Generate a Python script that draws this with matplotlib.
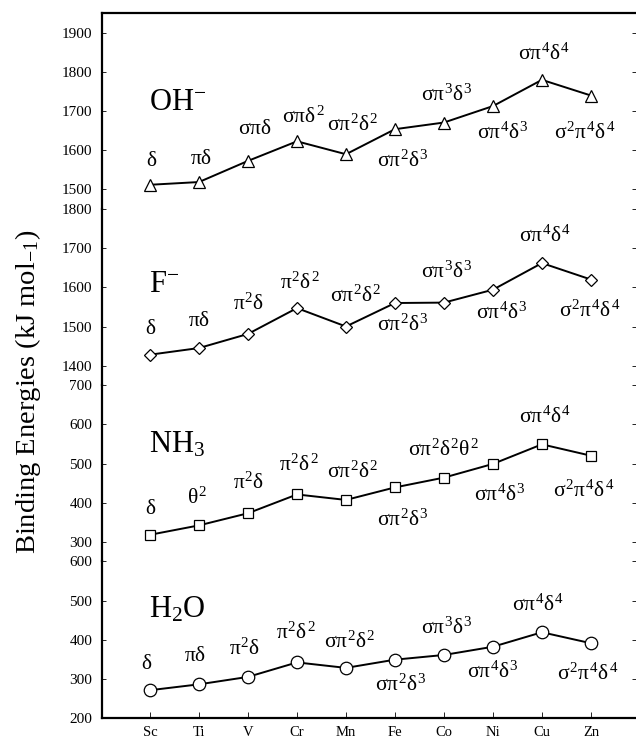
import matplotlib
matplotlib.use("Agg")
import matplotlib.pyplot as plt

plt.rcParams['font.family'] = ['Liberation Serif', 'DejaVu Serif']
plt.rcParams['mathtext.fontset'] = 'custom'
plt.rcParams['mathtext.rm'] = 'Liberation Serif'
plt.rcParams['mathtext.it'] = 'Liberation Serif'
plt.rcParams['mathtext.bf'] = 'Liberation Serif:bold'

# ---------------- data ----------------
metals = ['Sc', 'Ti', 'V', 'Cr', 'Mn', 'Fe', 'Co', 'Ni', 'Cu', 'Zn']

oh_values = [1512, 1519, 1573, 1623, 1590, 1654, 1671, 1713, 1780, 1740]
f_values = [1428, 1445, 1481, 1547, 1500, 1560, 1561, 1594, 1662, 1620]
nh3_values = [318, 342, 373, 421, 407, 439, 464, 499, 549, 520]
h2o_values = [271, 286, 305, 342, 328, 349, 361, 382, 419, 391]

oh_configs = ['δ', 'πδ', 'σπδ', 'σπδ^2', 'σπ^2δ^2', 'σπ^2δ^3', 'σπ^3δ^3',
              'σπ^4δ^3', 'σπ^4δ^4', 'σ^2π^4δ^4']
f_configs = ['δ', 'πδ', 'π^2δ', 'π^2δ^2', 'σπ^2δ^2', 'σπ^2δ^3', 'σπ^3δ^3',
             'σπ^4δ^3', 'σπ^4δ^4', 'σ^2π^4δ^4']
nh3_configs = ['δ', 'θ^2', 'π^2δ', 'π^2δ^2', 'σπ^2δ^2', 'σπ^2δ^3', 'σπ^2δ^2θ^2',
               'σπ^4δ^3', 'σπ^4δ^4', 'σ^2π^4δ^4']
h2o_configs = ['δ', 'πδ', 'π^2δ', 'π^2δ^2', 'σπ^2δ^2', 'σπ^2δ^3', 'σπ^3δ^3',
               'σπ^4δ^3', 'σπ^4δ^4', 'σ^2π^4δ^4']

ligand_names = ['OH$^{-}$', 'F$^{-}$', 'NH$_3$', 'H$_2$O']
oh_ticks = [1500, 1600, 1700, 1800, 1900]
f_ticks = [1400, 1500, 1600, 1700, 1800]
nh3_ticks = [300, 400, 500, 600, 700]
h2o_ticks = [200, 300, 400, 500, 600]
y_label = 'Binding Energies (kJ mol$_{\\mathregular{-1}}$)'

# ---------------- layout / style ----------------
ylims = [(1450, 1950), (1350, 1800), (250, 700), (200, 600)]
markers = ['^', 'D', 's', 'o']
marker_sizes = [9, 6.5, 7, 9]
name_pos = [1703, 1587, 527, 457]
label_offsets = [
    [(2, 23), (2, 23), (7, 31), (6, 24), (7, 29), (8, -32), (3, 27), (10, -27), (2, 26), (-6, -38)],
    [(1, 25), (0, 27), (0, 30), (3, 25), (10, 30), (8, -22), (3, 30), (9, -24), (3, 27), (-1, -32)],
    [(1, 25), (-2, 27), (0, 30), (2, 29), (7, 28), (8, -33), (0, 27), (7, -31), (3, 27), (-7, -36)],
    [(-3, 26), (-4, 28), (-4, 28), (-1, 29), (4, 26), (6, -26), (3, 27), (0, -25), (-4, 27), (-3, -31)],
]

values = [oh_values, f_values, nh3_values, h2o_values]
configs = [oh_configs, f_configs, nh3_configs, h2o_configs]
ticks = [oh_ticks, f_ticks, nh3_ticks, h2o_ticks]

W, H = 636, 741
fig = plt.figure(figsize=(W / 100, H / 100), dpi=100)
gs = fig.add_gridspec(4, 1, height_ratios=[b - a for a, b in ylims], hspace=0,
                      left=102 / W, right=1.0, top=1 - 13.3 / H, bottom=1 - 718 / H)

x = list(range(1, len(metals) + 1))
for i in range(4):
    ax = fig.add_subplot(gs[i])
    ax.plot(x, values[i], color='black', lw=1.4, marker=markers[i],
            ms=marker_sizes[i], mfc='white', mec='black', mew=0.9, zorder=3)
    ax.set_xlim(0.02, 10.92)
    ax.set_ylim(*ylims[i])
    ax.set_yticks(ticks[i])
    ax.tick_params(axis='y', direction='in', length=3, width=0.6, labelsize=11,
                   right=True, pad=7)
    ax.tick_params(axis='x', direction='in', length=4, width=0.6, labelsize=10.5,
                   top=False, pad=6)
    ax.spines['right'].set_visible(False)
    ax.spines['left'].set_linewidth(1.6)
    ax.spines['top'].set_linewidth(1.6)
    ax.spines['bottom'].set_linewidth(1.6)
    if i > 0:
        ax.spines['top'].set_visible(False)
    if i < 3:
        ax.spines['bottom'].set_visible(False)
        ax.tick_params(axis='x', bottom=False, labelbottom=False)
    else:
        ax.set_xticks(x)
        ax.set_xticklabels(metals)
    ax.text(0.98, name_pos[i], ligand_names[i], fontsize=22, ha='left', va='baseline')
    for xi, yi, lab, (dx, dy) in zip(x, values[i], configs[i], label_offsets[i]):
        ax.annotate('$' + lab + '$', (xi, yi), xytext=(dx, dy),
                    textcoords='offset pixels', ha='center', va='center', fontsize=15.5)

fig.text(28 / W, 1 - 392 / H, y_label, rotation=90, ha='center', va='center', fontsize=20.5)

fig.savefig('out.png', dpi=100)
